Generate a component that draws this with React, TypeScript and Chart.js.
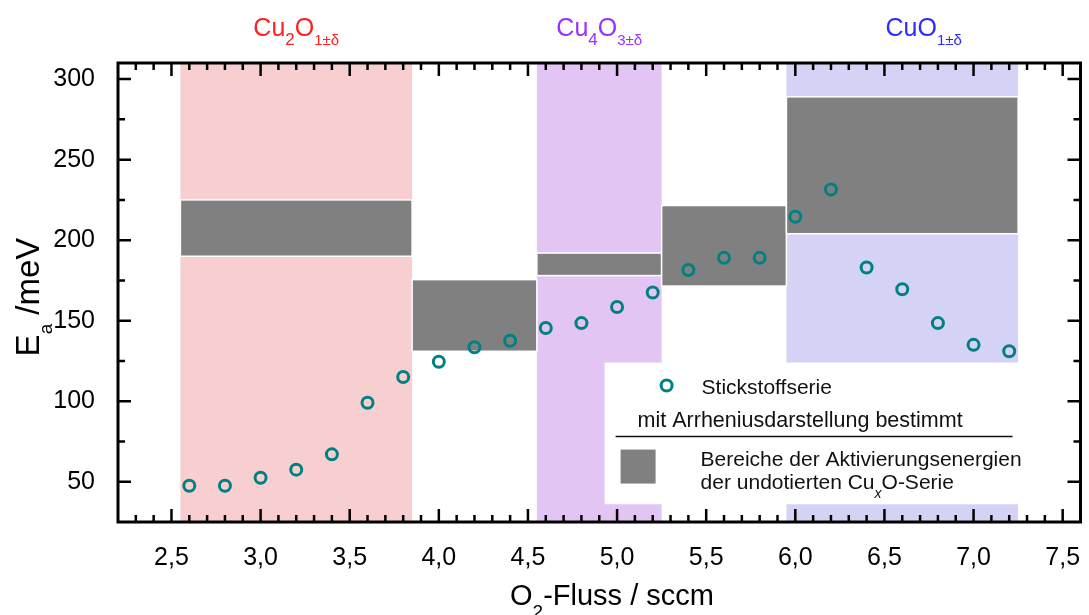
import { useEffect, useRef } from "react";
import { Chart, registerables } from "chart.js";

Chart.register(...registerables);

// ---- data ----
const flowValues = [2.6, 2.8, 3.0, 3.2, 3.4, 3.6, 3.8, 4.0, 4.2, 4.4, 4.6, 4.8, 5.0, 5.2, 5.4, 5.6, 5.8, 6.0, 6.2, 6.4, 6.6, 6.8, 7.0, 7.2];
const eaValues = [47.5, 47.5, 52.5, 57.5, 67, 99, 115, 124.5, 133.5, 137.5, 145.5, 148.5, 158.5, 167.5, 181.5, 189, 189, 214.5, 231.5, 183, 169.5, 148.5, 135, 131];

const xTickValues = [2.5, 3.0, 3.5, 4.0, 4.5, 5.0, 5.5, 6.0, 6.5, 7.0, 7.5];
const yTickValues = [50, 100, 150, 200, 250, 300];

// phase bands (Cu2O, Cu4O3, CuO)
const phaseStart = [2.55, 4.55, 5.95];
const phaseEnd = [3.85, 5.25, 7.25];
const phaseFill = ["#f8cfd0", "#e3c5f4", "#d4d3f6"];
const phaseTextColor = ["#ff2020", "#9a30ff", "#2b2bff"];
const phaseLabelX = [3.2, 4.9, 6.72];
const phaseMain1 = ["Cu", "Cu", "CuO"];
const phaseSub1 = ["2", "4", ""];
const phaseMain2 = ["O", "O", ""];
const phaseSub2 = ["1±δ", "3±δ", "1±δ"];

// activation energy ranges of the undoped CuxO series
const rangeStart = [2.55, 3.85, 4.55, 5.25, 5.95];
const rangeEnd = [3.85, 4.55, 5.25, 5.95, 7.25];
const rangeLow = [190, 131, 178, 171.5, 204];
const rangeHigh = [225, 175.5, 192, 221.5, 289];

const FONT = "'Liberation Sans', Arial, sans-serif";
const TEAL = "#008080";
const GRAY = "#808080";

type Part = { t: string; sub?: boolean; italic?: boolean; size?: number };

function drawRich(
  ctx: CanvasRenderingContext2D,
  parts: Part[],
  x: number,
  y: number,
  size: number,
  subSize: number,
  subDrop: number,
  color: string,
  align: "left" | "center"
) {
  const fontOf = (p: Part) =>
    `${p.italic ? "italic " : ""}${p.size ? p.size : p.sub ? subSize : size}px ${FONT}`;
  let w = 0;
  for (const p of parts) {
    ctx.font = fontOf(p);
    w += ctx.measureText(p.t).width;
  }
  let cx = align === "center" ? x - w / 2 : x;
  ctx.fillStyle = color;
  ctx.textAlign = "left";
  ctx.textBaseline = "alphabetic";
  for (const p of parts) {
    ctx.font = fontOf(p);
    ctx.fillText(p.t, cx, p.sub ? y + subDrop : y);
    cx += ctx.measureText(p.t).width;
  }
}

const decoPlugin = {
  id: "deco",
  beforeDatasetsDraw(chart: any) {
    const { ctx, chartArea: a, scales } = chart;
    const x = scales.x;
    const y = scales.y;
    ctx.save();
    // phase bands
    for (let i = 0; i < phaseStart.length; i++) {
      const x0 = x.getPixelForValue(phaseStart[i]);
      const x1 = x.getPixelForValue(phaseEnd[i]);
      ctx.fillStyle = phaseFill[i];
      ctx.fillRect(x0, a.top, x1 - x0, a.bottom - a.top);
    }
    // gray ranges
    for (let i = 0; i < rangeStart.length; i++) {
      const x0 = x.getPixelForValue(rangeStart[i]);
      const x1 = x.getPixelForValue(rangeEnd[i]);
      const y0 = y.getPixelForValue(rangeHigh[i]);
      const y1 = y.getPixelForValue(rangeLow[i]);
      ctx.fillStyle = GRAY;
      ctx.fillRect(x0, y0, x1 - x0, y1 - y0);
      ctx.strokeStyle = "#ffffff";
      ctx.lineWidth = 1.5;
      ctx.strokeRect(x0, y0, x1 - x0, y1 - y0);
    }
    // legend box
    const lx0 = x.getPixelForValue(4.93);
    const lx1 = x.getPixelForValue(7.33);
    const ly0 = y.getPixelForValue(124);
    const ly1 = y.getPixelForValue(36);
    ctx.fillStyle = "#ffffff";
    ctx.fillRect(lx0, ly0, lx1 - lx0, ly1 - ly0);
    ctx.restore();
  },
  afterDraw(chart: any) {
    const { ctx, chartArea: a, scales } = chart;
    const x = scales.x;
    const y = scales.y;
    ctx.save();

    // legend contents
    const ox = x.getPixelForValue(4.93);
    const oy = y.getPixelForValue(124);
    ctx.beginPath();
    ctx.arc(ox + 62, oy + 23, 5.5, 0, Math.PI * 2);
    ctx.strokeStyle = TEAL;
    ctx.lineWidth = 3;
    ctx.stroke();
    drawRich(ctx, [{ t: "Stickstoffserie" }], ox + 97, oy + 31, 21, 14, 8, "#111", "left");
    drawRich(ctx, [{ t: "mit Arrheniusdarstellung bestimmt" }], ox + 33, oy + 64, 21.5, 14, 8, "#111", "left");
    ctx.beginPath();
    ctx.moveTo(ox + 11, oy + 74);
    ctx.lineTo(ox + 408, oy + 74);
    ctx.strokeStyle = "#111";
    ctx.lineWidth = 1.5;
    ctx.stroke();
    ctx.fillStyle = GRAY;
    ctx.fillRect(ox + 16, oy + 87, 35, 34);
    drawRich(ctx, [{ t: "Bereiche der Aktivierungsenergien" }], ox + 96, oy + 103, 21, 14, 8, "#111", "left");
    drawRich(
      ctx,
      [{ t: "der undotierten Cu" }, { t: "x", sub: true, italic: true }, { t: "O-Serie" }],
      ox + 96,
      oy + 126,
      21,
      14,
      9,
      "#111",
      "left"
    );

    // frame
    ctx.strokeStyle = "#000";
    ctx.lineWidth = 3;
    ctx.strokeRect(a.left, a.top, a.right - a.left, a.bottom - a.top);

    // ticks (inward, all four sides)
    ctx.lineWidth = 2.5;
    const MAJ = 13;
    const MIN = 7;
    for (let k = 23; k <= 75; k++) {
      const v = k / 10;
      const major = k % 5 === 0;
      const len = major ? MAJ : MIN;
      const px = x.getPixelForValue(v);
      ctx.beginPath();
      ctx.moveTo(px, a.bottom);
      ctx.lineTo(px, a.bottom - len);
      ctx.moveTo(px, a.top);
      ctx.lineTo(px, a.top + len);
      ctx.stroke();
    }
    for (let v = 50; v <= 300; v += 25) {
      const major = v % 50 === 0;
      const len = major ? MAJ : MIN;
      const py = y.getPixelForValue(v);
      ctx.beginPath();
      ctx.moveTo(a.left, py);
      ctx.lineTo(a.left + len, py);
      ctx.moveTo(a.right, py);
      ctx.lineTo(a.right - len, py);
      ctx.stroke();
    }

    // phase labels
    for (let i = 0; i < phaseLabelX.length; i++) {
      const parts: Part[] = [{ t: phaseMain1[i] }];
      if (phaseSub1[i]) parts.push({ t: phaseSub1[i], sub: true, size: 17 });
      if (phaseMain2[i]) parts.push({ t: phaseMain2[i] });
      parts.push({ t: phaseSub2[i], sub: true, size: 15 });
      drawRich(ctx, parts, x.getPixelForValue(phaseLabelX[i]), 36, 25, 16, 9, phaseTextColor[i], "center");
    }

    // x axis title
    drawRich(
      ctx,
      [{ t: "O" }, { t: "2", sub: true }, { t: "-Fluss / sccm" }],
      612,
      605,
      29,
      19,
      13,
      "#000",
      "center"
    );

    // y axis title
    ctx.translate(39, 297);
    ctx.rotate(-Math.PI / 2);
    drawRich(ctx, [{ t: "E" }, { t: "a", sub: true }, { t: " /meV" }], 0, 0, 33, 19, 13, "#000", "center");

    ctx.restore();
  },
};

export default function App() {
  const ref = useRef<HTMLCanvasElement | null>(null);
  useEffect(() => {
    if (!ref.current) return;
    const chart = new Chart(ref.current, {
      type: "scatter",
      data: {
        datasets: [
          {
            label: "Stickstoffserie",
            data: flowValues.map((v, i) => ({ x: v, y: eaValues[i] })),
            pointStyle: "circle",
            pointRadius: 5.5,
            pointHoverRadius: 5.5,
            borderWidth: 3,
            pointBorderWidth: 3,
            borderColor: TEAL,
            pointBorderColor: TEAL,
            backgroundColor: "rgba(0,0,0,0)",
            pointBackgroundColor: "rgba(0,0,0,0)",
          },
        ],
      },
      options: {
        responsive: false,
        animation: false,
        devicePixelRatio: 1,
        layout: { padding: { top: 63, right: 1, left: 0, bottom: 0 } },
        plugins: { legend: { display: false }, tooltip: { enabled: false } },
        scales: {
          x: {
            type: "linear",
            min: 2.2,
            max: 7.6,
            grid: { display: false },
            border: { display: false },
            afterBuildTicks: (s: any) => {
              s.ticks = xTickValues.map((v) => ({ value: v }));
            },
            afterFit: (s: any) => {
              s.height = 93;
              s.paddingLeft = 0;
              s.paddingRight = 0;
            },
            ticks: {
              color: "#000",
              font: { family: FONT, size: 25 },
              padding: 13,
              maxRotation: 0,
              autoSkip: false,
              callback: (v: any) => Number(v).toFixed(1).replace(".", ","),
            },
          },
          y: {
            type: "linear",
            min: 25,
            max: 310,
            grid: { display: false },
            border: { display: false },
            afterBuildTicks: (s: any) => {
              s.ticks = yTickValues.map((v) => ({ value: v }));
            },
            afterFit: (s: any) => {
              s.width = 118;
              s.paddingTop = 0;
              s.paddingBottom = 0;
            },
            ticks: {
              color: "#000",
              font: { family: FONT, size: 25 },
              padding: 15,
              autoSkip: false,
              callback: (v: any) => String(v),
            },
          },
        },
      },
      plugins: [decoPlugin as any],
    });
    return () => chart.destroy();
  }, []);
  return (
    <div style={{ position: "absolute", left: 0, top: 0, width: 1089, height: 615 }}>
      <canvas ref={ref} width={1089} height={615} style={{ width: 1089, height: 615 }} />
    </div>
  );
}
